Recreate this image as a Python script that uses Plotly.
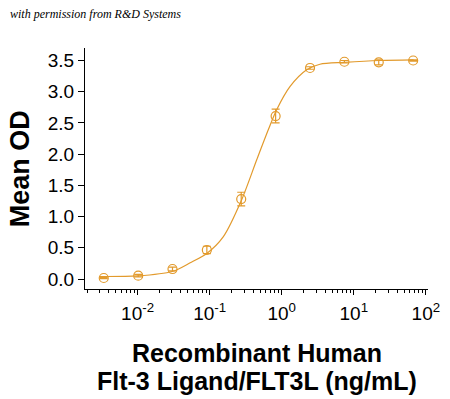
import plotly.graph_objects as go

# Measured points (concentration in ng/mL, mean OD, error)
conc = [0.00339, 0.0102, 0.0305, 0.0914, 0.274, 0.823, 2.47, 7.41, 22.2, 66.7]
mean_od = [0.016, 0.053, 0.16, 0.465, 1.28, 2.61, 3.38, 3.48, 3.47, 3.50]
od_err = [0.01, 0.02, 0.03, 0.06, 0.11, 0.11, 0.02, 0.02, 0.04, 0.01]

# Fitted curve
curve_conc = [0.0030, 0.0100, 0.0302, 0.0537, 0.0912, 0.155, 0.278, 0.450,
              0.651, 0.851, 1.30, 2.22, 3.39, 7.41, 22.9, 67.6]
curve_od = [0.04, 0.05, 0.12, 0.26, 0.41, 0.68, 1.27, 1.91,
            2.39, 2.71, 3.08, 3.35, 3.44, 3.47, 3.50, 3.51]

x_tickvals = [0.01, 0.1, 1, 10, 100]
x_ticktext = ["10<sup>-2</sup>", "10<sup>-1</sup>", "10<sup>0</sup>",
              "10<sup>1</sup>", "10<sup>2</sup>"]
y_tickvals = [0.0, 0.5, 1.0, 1.5, 2.0, 2.5, 3.0, 3.5]
y_ticktext = ["0.0", "0.5", "1.0", "1.5", "2.0", "2.5", "3.0", "3.5"]

x_title_lines = ["Recombinant Human", "Flt-3 Ligand/FLT3L (ng/mL)"]

color = "#E29A2C"
bold = dict(color="black", family="Liberation Sans, Arial, sans-serif", weight="bold")

fig = go.Figure()
fig.add_trace(go.Scatter(
    x=curve_conc, y=curve_od, mode="lines",
    line=dict(color=color, width=1.2, shape="spline", smoothing=0.8),
    hoverinfo="skip", showlegend=False))
fig.add_trace(go.Scatter(
    x=conc, y=mean_od, mode="markers",
    marker=dict(symbol="circle-open", size=9, color=color, line=dict(width=1.2, color=color)),
    error_y=dict(type="data", array=od_err, color=color, thickness=1.2, width=4),
    showlegend=False))

fig.update_layout(
    width=450, height=399,
    margin=dict(l=85, r=22, t=48, b=110),
    paper_bgcolor="white", plot_bgcolor="white",
    font=dict(family="Liberation Sans, Arial, sans-serif", color="black"),
    xaxis=dict(
        type="log", range=[-2.73, 2.03], automargin=False,
        tickvals=x_tickvals, ticktext=x_ticktext,
        ticks="outside", ticklen=5, tickwidth=1, tickcolor="black",
        ticklabelstandoff=2,
        showline=True, linecolor="black", linewidth=1,
        showgrid=False, zeroline=False,
        tickfont=dict(size=19, color="black"),
        minor=dict(ticks="outside", ticklen=3, tickcolor="black", dtick="D1", showgrid=False),
    ),
    yaxis=dict(
        range=[-0.16, 3.70], automargin=False,
        tickvals=y_tickvals, ticktext=y_ticktext,
        ticks="outside", ticklen=6, tickwidth=1, tickcolor="black",
        showline=True, linecolor="black", linewidth=1,
        showgrid=False, zeroline=False,
        tickfont=dict(size=19, color="black"),
    ),
    annotations=[
        dict(text="Mean OD", xref="paper", yref="paper", x=-0.19, y=0.5,
             xanchor="center", yanchor="middle", textangle=-90, showarrow=False,
             font=dict(size=27, **bold)),
        dict(text=x_title_lines[0], xref="paper", yref="paper",
             x=0.5, y=-0.265, xanchor="center", yanchor="middle", showarrow=False,
             font=dict(size=25, **bold)),
        dict(text=x_title_lines[1], xref="paper", yref="paper",
             x=0.5, y=-0.38, xanchor="center", yanchor="middle", showarrow=False,
             font=dict(size=25, **bold)),
        dict(text="with permission from R&D Systems", xref="paper", yref="paper",
             x=-0.225, y=1.14, xanchor="left", yanchor="middle", showarrow=False,
             font=dict(size=12, color="black", family="Liberation Serif, serif", style="italic")),
    ],
)

fig.write_html("out.html", config={"displayModeBar": False},
               post_script="document.body.style.margin='0';")
